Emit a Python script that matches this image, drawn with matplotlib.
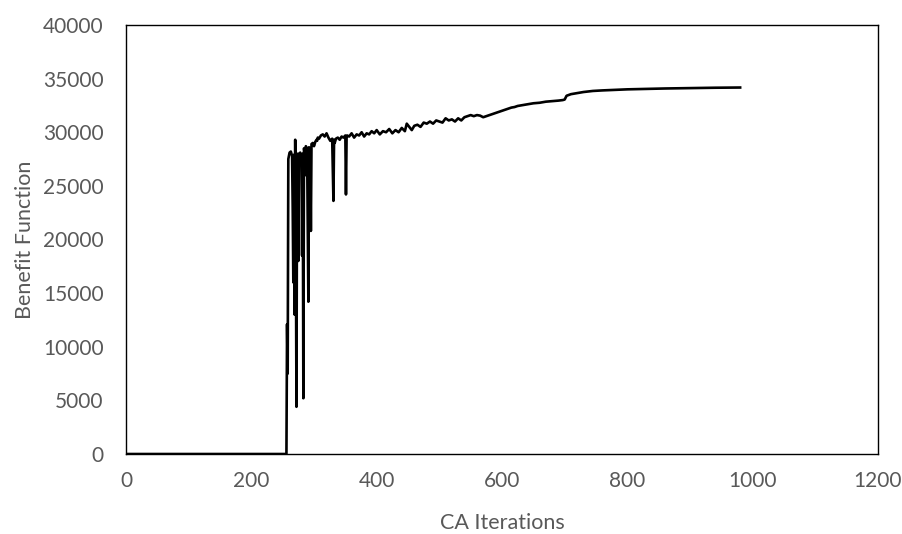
import matplotlib.pyplot as plt
import matplotlib

matplotlib.rcParams['font.family'] = ['Lato', 'DejaVu Sans']

# CA iteration number and benefit function value
iterations = [0, 100, 200, 256, 257, 258, 259, 261, 263, 265, 266, 267, 268, 269,
              270, 271, 272, 273, 274, 275, 276, 278, 280, 281, 282, 283, 284, 285,
              286, 287, 289, 291, 292, 294, 295, 296, 298, 300, 302, 304, 305, 306,
              308, 311, 314, 317, 320, 323, 326, 329, 331, 332, 333, 335, 338, 341,
              344, 347, 350, 351, 352, 353, 356, 360, 364, 368, 372, 376, 380, 384,
              388, 392, 396, 400, 405, 410, 415, 420, 425, 430, 435, 440, 445, 448,
              452, 456, 460, 465, 470, 475, 480, 485, 490, 495, 500, 505, 510, 515,
              520, 525, 530, 535, 540, 545, 550, 555, 560, 565, 570, 575, 580, 585,
              590, 595, 600, 605, 610, 615, 620, 625, 630, 640, 650, 660, 670, 680,
              690, 697, 700, 703, 710, 720, 730, 745, 760, 780, 800, 820, 840, 860,
              880, 900, 920, 940, 960, 980]
benefit = [0, 0, 0, 0, 12100, 7500, 27500, 28100, 28200, 27800, 23000, 16000, 27900,
           13000, 29300, 20000, 4400, 28000, 27900, 18000, 28000, 28100, 27800,
           18500, 28000, 5200, 28500, 28200, 26000, 28700, 28400, 14200, 28600,
           28300, 20800, 28900, 29000, 28700, 29100, 29300, 29200, 29500, 29400,
           29700, 29800, 29600, 29900, 29500, 29200, 29400, 23600, 29300, 29000,
           29400, 29500, 29300, 29600, 29500, 29700, 24200, 29600, 29700, 29600,
           29900, 29500, 29800, 29700, 30000, 29600, 29900, 29800, 30100, 29900,
           30200, 29800, 30100, 30000, 30300, 29900, 30200, 30000, 30400, 30100,
           30800, 30500, 30200, 30600, 30700, 30500, 30900, 30800, 31000, 30800,
           31100, 31000, 30900, 31300, 31100, 31200, 31000, 31300, 31100, 31400,
           31500, 31600, 31500, 31600, 31550, 31400, 31500, 31600, 31700, 31800,
           31900, 32000, 32100, 32200, 32300, 32350, 32450, 32500, 32600, 32700,
           32750, 32850, 32900, 32950, 33000, 33050, 33400, 33550, 33650, 33750,
           33850, 33900, 33950, 34000, 34030, 34060, 34080, 34100, 34120, 34140,
           34150, 34160, 34170]

x_ticks = [0, 200, 400, 600, 800, 1000, 1200]
y_ticks = [0, 5000, 10000, 15000, 20000, 25000, 30000, 35000, 40000]


def plot_benefit():
    fig = plt.figure(figsize=(9.02, 5.34), dpi=100)
    ax = fig.add_axes([0.1397, 0.1498, 0.8337, 0.8034])
    ax.plot(iterations, benefit, color='black', linewidth=1.9)
    ax.set_xlim(0, 1200)
    ax.set_ylim(0, 40000)
    ax.set_xticks(x_ticks)
    ax.set_yticks(y_ticks)
    ax.tick_params(length=0, labelsize=15, colors='#595959')
    ax.tick_params(axis='y', pad=16)
    ax.tick_params(axis='x', pad=12)
    for s in ax.spines.values():
        s.set_color('black')
        s.set_linewidth(1.0)
    ax.set_xlabel('CA Iterations', fontsize=15.5, color='#595959', labelpad=16)
    ax.set_ylabel('Benefit Function', fontsize=15.5, color='#595959', labelpad=6)
    fig.savefig('out.png', dpi=100)


if __name__ == '__main__':
    plot_benefit()
